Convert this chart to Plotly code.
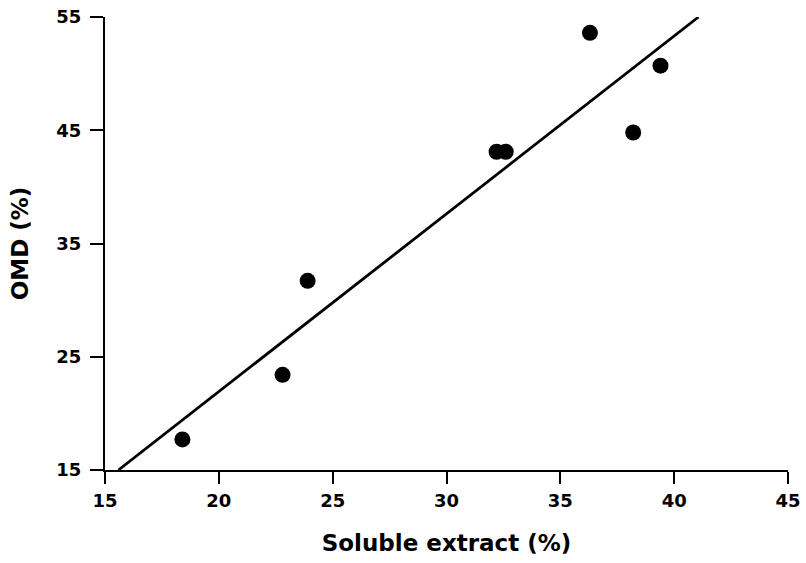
import plotly.graph_objects as go

soluble_extract = [18.4, 22.8, 23.9, 32.2, 32.6, 36.3, 38.2, 39.4]
omd = [17.7, 23.4, 31.7, 43.1, 43.1, 53.6, 44.8, 50.7]

fit_x = [15.59, 41.07]
fit_y = [15.0, 55.0]

x_ticks = [15, 20, 25, 30, 35, 40, 45]
y_ticks = [15, 25, 35, 45, 55]

font_family = "DejaVu Sans, Verdana, sans-serif"

fig = go.Figure()
fig.add_trace(go.Scatter(
    x=fit_x, y=fit_y, mode="lines",
    line=dict(color="black", width=2.8),
    showlegend=False, cliponaxis=False, hoverinfo="skip",
))
fig.add_trace(go.Scatter(
    x=soluble_extract, y=omd, mode="markers",
    marker=dict(color="black", size=16),
    showlegend=False, cliponaxis=False,
))

fig.update_layout(
    width=806, height=563,
    margin=dict(l=105, r=18, t=17, b=93),
    paper_bgcolor="white", plot_bgcolor="white",
    font=dict(family=font_family, color="black"),
)
fig.update_xaxes(
    range=[15, 45], tickvals=x_ticks,
    ticktext=[f"<b>{v}</b>" for v in x_ticks],
    ticks="outside", ticklen=12, tickwidth=2, tickcolor="black",
    showline=True, linecolor="black", linewidth=2.2,
    showgrid=False, zeroline=False, automargin=False,
    tickfont=dict(size=18, family=font_family),
    ticklabelstandoff=1,
    title=dict(text="<b>Soluble extract (%)</b>", font=dict(size=23, family=font_family), standoff=25),
)
fig.update_yaxes(
    range=[15, 55], tickvals=y_ticks,
    ticktext=[f"<b>{v}</b>" for v in y_ticks],
    ticks="outside", ticklen=13, tickwidth=2, tickcolor="black",
    showline=True, linecolor="black", linewidth=2.2,
    showgrid=False, zeroline=False, automargin=False,
    tickfont=dict(size=18, family=font_family),
    ticklabelstandoff=5,
    title=dict(text="<b>OMD (%)</b>", font=dict(size=23, family=font_family), standoff=21),
)

fig.write_html("out.html", config={"displayModeBar": False},
               post_script="document.body.style.margin='0';")
